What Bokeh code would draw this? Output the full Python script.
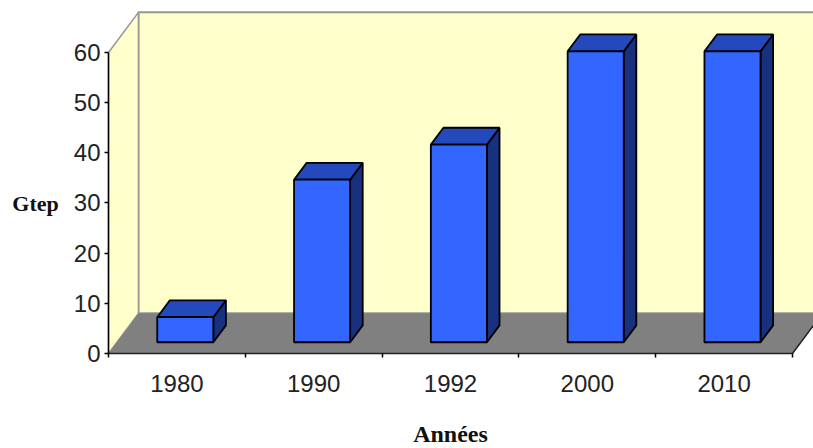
from bokeh.plotting import figure
from bokeh.models import LinearAxis, FixedTicker, Range1d
from bokeh.embed import file_html
from bokeh.resources import INLINE

years = ["1980", "1990", "1992", "2000", "2010"]
values = [5, 32.4, 39.4, 58, 58]
y_ticks = [0, 10, 20, 30, 40, 50, 60]
y_title = "Gtep"
x_title = "Années"

# 3D box depth in data units, and the depth slice each bar occupies
DX, DY = 0.219, 8.0
D1, D2 = 0.28, 0.70
BAR_W = 0.41
YMAX = 60
N = len(years)

x_unit, y_unit = 136.8, 5.017
p = figure(width=813, height=448, output_backend="svg", toolbar_location=None,
           x_axis_type=None, y_axis_type=None, min_border=0,
           x_range=Range1d(-108 / x_unit, 705 / x_unit),
           y_range=Range1d(-95 / y_unit, 353 / y_unit))
p.outline_line_color = None
p.grid.visible = False
p.background_fill_color = "white"

WALL, FLOOR, EDGE = "#FFFFCC", "#808080", "#969696"
FRONT, TOP, SIDE = "#3366FF", "#2349BD", "#17317F"

# walls and floor
p.patch([DX, N + DX, N + DX, DX], [DY, DY, YMAX + DY, YMAX + DY],
        fill_color=WALL, line_color=EDGE, line_width=2)
p.patch([0, DX, DX, 0], [0, DY, YMAX + DY, YMAX],
        fill_color=WALL, line_color=EDGE, line_width=1.5)
p.patch([0, N, N + DX, DX], [0, 0, DY, DY], fill_color=FLOOR, line_color=None)
p.line([N, N + DX], [0, DY], line_color="#222222", line_width=1.5)

# bars
for i, v in enumerate(values):
    x0 = i + 0.5 - BAR_W / 2 + D1 * DX
    x1 = x0 + BAR_W
    dx = (D2 - D1) * DX
    b = D1 * DY
    dy = (D2 - D1) * DY
    p.patch([x1, x1 + dx, x1 + dx, x1], [b, b + dy, b + dy + v, b + v],
            fill_color=SIDE, line_color="black", line_width=1.8)
    p.patch([x0, x1, x1 + dx, x0 + dx], [b + v, b + v, b + v + dy, b + v + dy],
            fill_color=TOP, line_color="black", line_width=1.8)
    p.patch([x0, x1, x1, x0], [b, b, b + v, b + v],
            fill_color=FRONT, line_color="black", line_width=1.8)

TICK_FONT = "Liberation Sans"

yaxis = LinearAxis(fixed_location=0, bounds=(0, YMAX),
                   ticker=FixedTicker(ticks=y_ticks),
                   axis_label=y_title, axis_label_orientation="horizontal",
                   axis_label_text_font="Liberation Serif",
                   axis_label_text_font_style="bold",
                   axis_label_text_font_size="22px",
                   axis_label_text_color="#111111",
                   axis_label_standoff=12,
                   major_label_text_font=TICK_FONT,
                   major_label_text_font_size="24px",
                   major_label_text_color="#222222",
                   major_label_standoff=4,
                   major_tick_in=0, major_tick_out=4,
                   minor_tick_line_color=None,
                   axis_line_color="black", axis_line_width=1.5,
                   major_tick_line_color="black", major_tick_line_width=1.5)
p.add_layout(yaxis, "left")

xaxis = LinearAxis(fixed_location=0, bounds=(0, N),
                   ticker=FixedTicker(ticks=[i + 0.5 for i in range(N)],
                                      minor_ticks=list(range(N + 1))),
                   major_label_overrides={i + 0.5: y for i, y in enumerate(years)},
                   axis_label=x_title,
                   axis_label_text_font="Liberation Serif",
                   axis_label_text_font_style="bold",
                   axis_label_text_font_size="24px",
                   axis_label_text_color="#111111",
                   axis_label_standoff=26,
                   major_label_text_font=TICK_FONT,
                   major_label_text_font_size="24px",
                   major_label_text_color="#222222",
                   major_label_standoff=15,
                   major_tick_line_color=None,
                   minor_tick_in=0, minor_tick_out=4,
                   minor_tick_line_color="black", minor_tick_line_width=1.5,
                   axis_line_color="#222222", axis_line_width=1.5)
p.add_layout(xaxis, "below")

open("out.html", "w").write(file_html(p, INLINE))
